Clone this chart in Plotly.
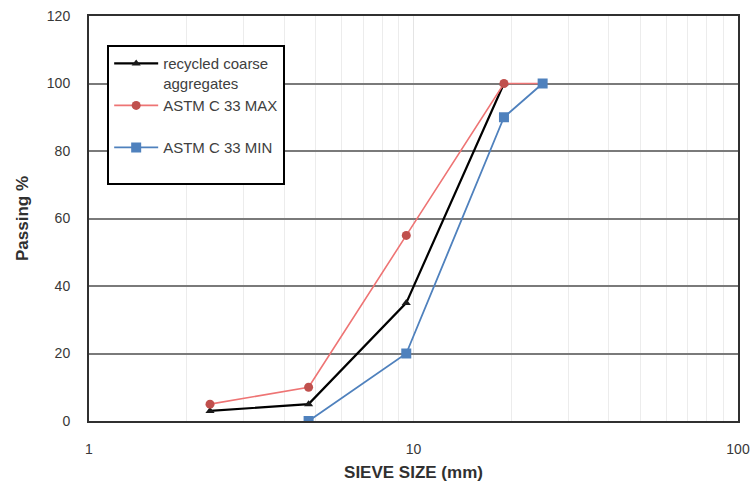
import plotly.graph_objects as go

sieve_rca = [2.36, 4.75, 9.5, 19]
pass_rca = [3, 5, 35, 100]
sieve_max = [2.36, 4.75, 9.5, 19, 25]
pass_max = [5, 10, 55, 100, 100]
sieve_min = [4.75, 9.5, 19, 25]
pass_min = [0, 20, 90, 100]

names = ["recycled coarse<br>aggregates", "ASTM C 33 MAX<br> ", "ASTM C 33 MIN<br> "]

fig = go.Figure()
fig.add_trace(go.Scatter(x=sieve_rca, y=pass_rca, name=names[0], mode="lines+markers",
                         line=dict(color="black", width=2.2),
                         marker=dict(symbol="triangle-up", size=8, color="#1a1a1a")))
fig.add_trace(go.Scatter(x=sieve_max, y=pass_max, name=names[1], mode="lines+markers",
                         line=dict(color="#ee7474", width=1.6),
                         marker=dict(symbol="circle", size=9, color="#c0504d")))
fig.add_trace(go.Scatter(x=sieve_min, y=pass_min, name=names[2], mode="lines+markers",
                         line=dict(color="#4f81bd", width=1.8),
                         marker=dict(symbol="square", size=10, color="#4f81bd")))

fig.update_layout(
    width=754, height=486,
    margin=dict(l=89, r=16, t=16, b=65),
    paper_bgcolor="white", plot_bgcolor="white",
    font=dict(family="Liberation Sans, Arial, sans-serif", color="#404040"),
    showlegend=True,
    legend=dict(x=0.028, y=0.928, xanchor="left", yanchor="top",
                bgcolor="white", bordercolor="black", borderwidth=2,
                font=dict(size=15, color="#404040"), valign="top",
                tracegroupgap=0, itemwidth=44),
    xaxis=dict(type="log", range=[0, 2], dtick=1, automargin=False,
               showgrid=True, gridcolor="#e4e4e4", gridwidth=1,
               minor=dict(dtick="D1", showgrid=True, gridcolor="#ececec", gridwidth=1),
               showline=True, linecolor="#303030", linewidth=2, mirror=True,
               ticks="", ticklabelstandoff=14,
               tickfont=dict(size=14, color="#383838"),
               title=dict(text="<b>SIEVE SIZE (mm)</b>", font=dict(size=17, color="#303030"), standoff=10),
               zeroline=False),
    yaxis=dict(range=[0, 120], dtick=20, automargin=False,
               showgrid=True, gridcolor="#7a7a7a", gridwidth=1.6,
               showline=True, linecolor="#303030", linewidth=2, mirror=True,
               ticks="", ticklabelstandoff=14,
               tickfont=dict(size=14, color="#383838"),
               title=dict(text="<b>Passing %</b>", font=dict(size=17, color="#303030"), standoff=14),
               zeroline=False),
)

fig.write_html("out.html")
